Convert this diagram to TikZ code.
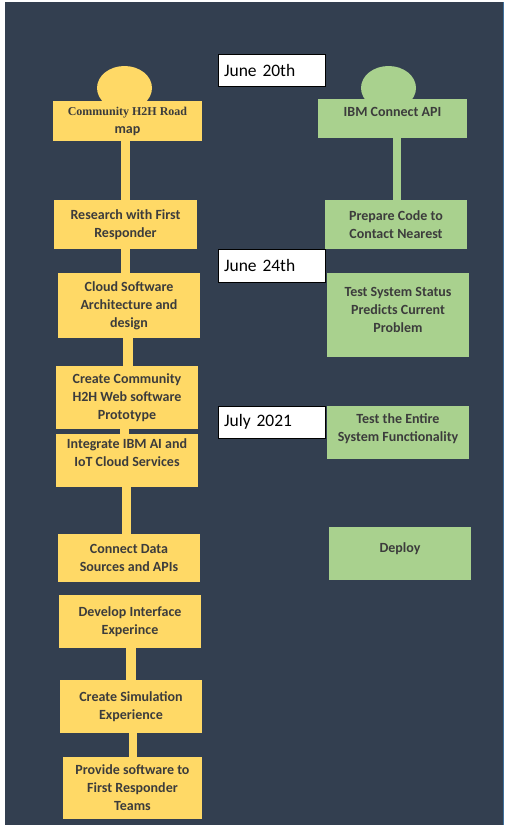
\documentclass[tikz,border=0pt]{standalone}
\usepackage{fontspec}
\setmainfont{Carlito}
\newfontfamily\serifbf{Liberation Serif}
\usetikzlibrary{shapes.geometric}
\definecolor{bgdark}{HTML}{333F50}
\definecolor{bgedge}{HTML}{41719C}
\definecolor{ygold}{HTML}{FFD966}
\definecolor{ggreen}{HTML}{A9D18E}
\definecolor{txt}{HTML}{3C3C3C}
\tikzset{
  ybox/.style={fill=ygold, draw=none, align=center, text=txt, inner sep=0pt,
    font=\fontsize{14}{18}\selectfont\bfseries},
  gbox/.style={fill=ggreen, draw=none, align=center, text=txt, inner sep=0pt,
    font=\fontsize{14}{18}\selectfont\bfseries},
  datebox/.style={fill=white, draw=black, line width=1pt, minimum width=107pt,
    text width=95pt, align=left, inner sep=0pt, text=black,
    font=\fontsize{17.5}{20}\selectfont},
  yline/.style={draw=ygold, line width=9pt},
  gline/.style={draw=ggreen, line width=8pt},
  ycirc/.style={ellipse, fill=ygold, minimum width=55pt, minimum height=44pt, inner sep=0pt},
  gcirc/.style={ellipse, fill=ggreen, minimum width=55pt, minimum height=44pt, inner sep=0pt}
}
\begin{document}
\begin{tikzpicture}[x=1pt,y=-1pt]
\useasboundingbox (0,0) rectangle (507,825);
\fill[white] (0,0) rectangle (507,825);
\fill[bgdark] (5,2) rectangle (504,826);
\draw[bgedge, line width=1pt] (503.5,2) -- (503.5,826);

% circles
\node[ycirc] (yc) at (124.5,88) {};
\node[gcirc] (gc) at (388.5,88) {};

% left column
\node[ybox, minimum width=149pt, minimum height=40pt] (b1) at (127.5,121)
  {\serifbf\fontsize{12}{15}\selectfont\bfseries Community H2H Road\\map};
\node[ybox, minimum width=143pt, minimum height=49pt] (b2) at (125.5,224.5)
  {Research with First\\Responder};
\node[ybox, minimum width=142pt, minimum height=65pt] (b3) at (129,305.5)
  {Cloud Software\\Architecture and\\design};
\node[ybox, minimum width=142pt, minimum height=63pt] (b4) at (127,397.5)
  {Create Community\\H2H Web software\\Prototype};
\node[ybox, minimum width=142pt, minimum height=53pt] (b5) at (127,460.5)
  {Integrate IBM AI and\\IoT Cloud Services\\[-2pt]\mbox{}};
\node[ybox, minimum width=142pt, minimum height=48pt] (b6) at (129,558)
  {Connect Data\\Sources and APIs};
\node[ybox, minimum width=142pt, minimum height=53pt] (b7) at (130,621.5)
  {Develop Interface\\Experince};
\node[ybox, minimum width=142pt, minimum height=53pt] (b8) at (131,706.5)
  {Create Simulation\\Experience};
\node[ybox, minimum width=139pt, minimum height=62pt] (b9) at (132.5,788)
  {Provide software to\\First Responder\\Teams};

% right column
\node[gbox, minimum width=149pt, minimum height=39pt] (g1) at (392.5,118.5)
  {IBM Connect API\\[-4pt]\mbox{}};
\node[gbox, minimum width=142pt, minimum height=49pt] (g2) at (396,224.5)
  {Prepare Code to\\Contact Nearest};
\node[gbox, minimum width=142pt, minimum height=84pt] (g3) at (398,315)
  {Test System Status\\Predicts Current\\Problem\\[-8pt]\mbox{}};
\node[gbox, minimum width=142pt, minimum height=53pt] (g4) at (398,432.5)
  {Test the Entire\\System Functionality\\[-8pt]\mbox{}};
\node[gbox, minimum width=142pt, minimum height=53pt] (g5) at (400,553.5)
  {Deploy\\[-6pt]\mbox{}};

% dates
\node[datebox, minimum height=32pt] (d1) at (271.5,70) {June 20th};
\node[datebox, minimum height=33pt] (d2) at (271.5,265.5) {June 24th};
\node[datebox, minimum height=32pt] (d3) at (271.5,422) {July 2021};

% connectors
\draw[yline] ([xshift=-2.5pt]b1.south) -- ([xshift=-2.5pt]b1.south |- b2.north);
\draw[yline] ([xshift=-0.5pt]b2.south) -- ([xshift=-0.5pt]b2.south |- b3.north);
\draw[yline, line width=10pt] ([xshift=-1pt]b3.south) -- ([xshift=-1pt]b3.south |- b4.north);
\draw[yline] ([xshift=-2.5pt]b4.south) -- ([xshift=-2.5pt]b4.south |- b5.north);
\draw[yline] ([xshift=-0.5pt]b5.south) -- ([xshift=-0.5pt]b5.south |- b6.north);
\draw[yline, line width=10pt] ([xshift=0.5pt]b7.south) -- ([xshift=0.5pt]b7.south |- b8.north);
\draw[yline, line width=8pt] ([xshift=2pt]b8.south) -- ([xshift=2pt]b8.south |- b9.north);
\draw[gline] ([xshift=4.5pt]g1.south) -- ([xshift=4.5pt]g1.south |- g2.north);
\end{tikzpicture}
\end{document}
